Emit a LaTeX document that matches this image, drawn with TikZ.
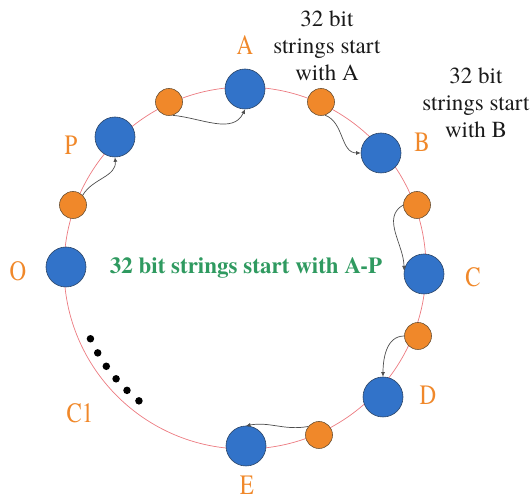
\documentclass[tikz,border=0pt]{standalone}
\usepackage{fontspec}
\setmainfont{texgyretermes}[Extension=.otf,UprightFont=*-regular,BoldFont=*-bold]
\usepackage{graphicx}
\usepackage{tikz}
\usetikzlibrary{arrows.meta,positioning}
\definecolor{rgInk}{HTML}{1A1A1A}
\definecolor{rgBlue}{HTML}{3273C9}
\definecolor{rgBlueEdge}{HTML}{2B4466}
\definecolor{rgOrange}{HTML}{F0882A}
\definecolor{rgOrangeEdge}{HTML}{6B5135}
\definecolor{rgRed}{HTML}{EC7A80}
\definecolor{rgGreen}{HTML}{2F9A60}
\definecolor{rgWire}{HTML}{4D4D4D}
\newcommand{\slimtxt}[1]{\scalebox{0.82}[1]{#1}}
\tikzset{
  peer/.style   ={circle,draw=rgBlueEdge,line width=0.6pt,fill=rgBlue,
                  minimum size=40pt,inner sep=0pt},
  relay/.style  ={circle,draw=rgOrangeEdge,line width=0.6pt,fill=rgOrange,
                  minimum size=27pt,inner sep=0pt},
  ring/.style   ={rgRed,line width=0.7pt},
  hop/.style    ={-{Latex[length=4.5pt,width=4pt]},rgWire,line width=0.7pt},
  idlbl/.style  ={text=rgOrange,font=\fontsize{28}{28}\selectfont,inner sep=0pt},
  note/.style   ={text=rgInk,font=\fontsize{23}{27}\selectfont,align=center,inner sep=0pt},
  rangelbl/.style={text=rgGreen,font=\fontsize{23}{27}\selectfont\bfseries,inner sep=0pt},
  gapdot/.style ={circle,fill=black,minimum size=7.5pt,inner sep=0pt},
}

\begin{document}
\begin{tikzpicture}[x=1pt,y=1pt]
\useasboundingbox (0,0) rectangle (531,500);
\coordinate (hub) at (245,232);

% ring
\draw[ring] (hub) circle[radius=181pt];

% peers on the ring
\node[peer] (A) at (245,411) {};
\node[peer] (P) at (115,363) {};
\node[peer] (O) at (66,233)  {};
\node[peer] (B) at (381,347) {};
\node[peer] (C) at (424,226) {};
\node[peer] (D) at (383,103) {};
\node[peer] (E) at (246,54)  {};

% relays between peers
\node[relay] (r1) at (169,398) {};
\node[relay] (r2) at (321,398) {};
\node[relay] (r3) at (417,295) {};
\node[relay] (r4) at (418,164) {};
\node[relay] (r5) at (319,65)  {};
\node[relay] (r6) at (73,295)  {};

% peer labels
\node[idlbl] (lA) at (245,455) {\slimtxt{A}};
\node[idlbl] (lP) at (71,355)  {\slimtxt{P}};
\node[idlbl] (lO) at (18,229)  {\slimtxt{O}};
\node[idlbl] (lB) at (422,358) {\slimtxt{B}};
\node[idlbl] (lC) at (473,223) {\slimtxt{C}};
\node[idlbl] (lD) at (428,105) {\slimtxt{D}};
\node[idlbl] (lE) at (247,15)  {\slimtxt{E}};
\node[idlbl] (lC1) at (80,87)  {\slimtxt{C1}};

% ranges
\node[note] (noteA) at (327,454) {32 bit\\strings start\\with A};
\node[note] (noteB) at (476,397) {32 bit\\strings start\\with B};
\node[rangelbl] (all) at (246,232) {32 bit strings start with A-P};

% hops
\draw[hop] (r1.-75) to[out=-5,in=-115] (A.south);
\draw[hop] (r2.-73) to[out=-20,in=180] (B.west);
\draw[hop] (r3.west) to[out=210,in=90] (C.170);
\draw[hop] (r4.west) to[out=180,in=90] (D.north);
\draw[hop] (r5.142) to[out=190,in=10] (E.north);
\draw[hop] (r6.45) to[out=60,in=-85] (P.south);

% omitted peers
\foreach \k in {0,...,5}
  \node[gapdot] (dot\k) at ([shift={(204.6+5.36*\k:170pt)}]hub) {};
\end{tikzpicture}
\end{document}
